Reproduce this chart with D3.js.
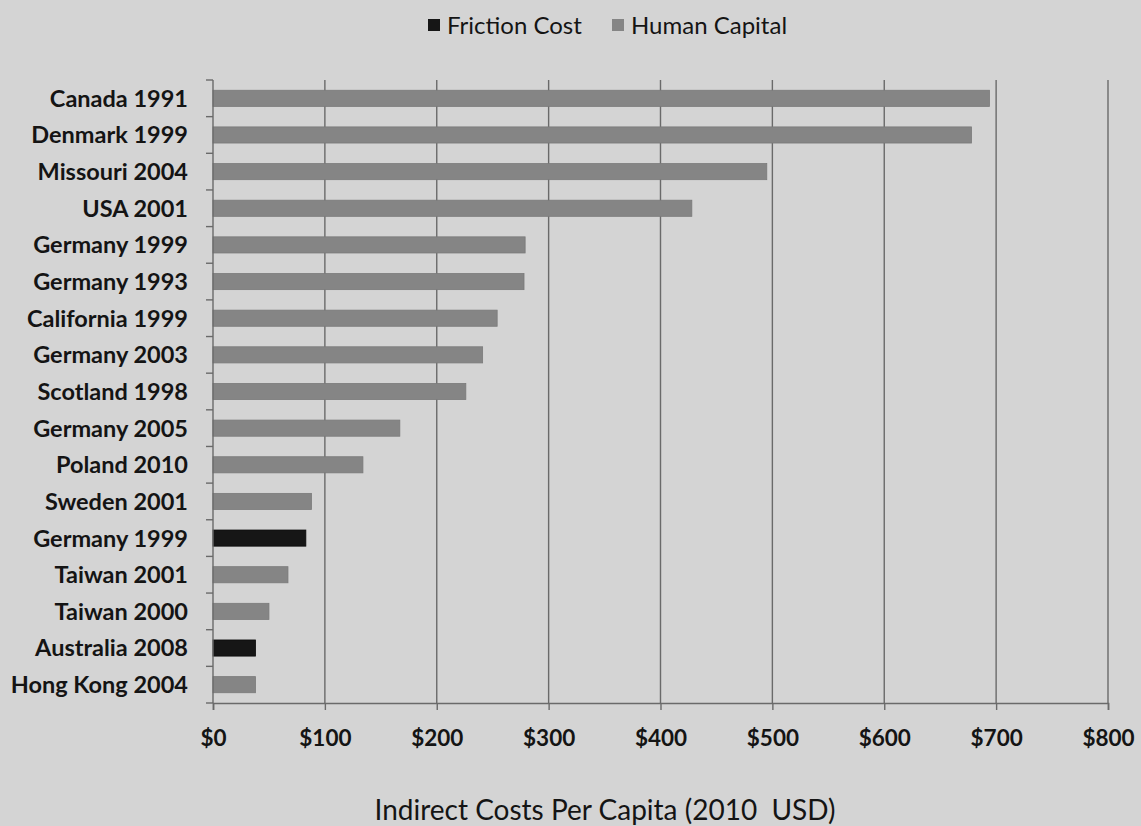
<!DOCTYPE html>
<html>
<head>
<meta charset="utf-8">
<script src="https://cdn.jsdelivr.net/npm/d3@7"></script>
<style>
  html, body { margin: 0; padding: 0; background: #d4d4d4; }
  svg { display: block; }
  text { font-family: Lato, "Open Sans", sans-serif; fill: #141414; }
</style>
</head>
<body>
<svg id="chart" width="1141" height="826"></svg>
<script>
// Studies, top to bottom
const categories = [
  "Canada 1991", "Denmark 1999", "Missouri 2004", "USA 2001", "Germany 1999",
  "Germany 1993", "California 1999", "Germany 2003", "Scotland 1998",
  "Germany 2005", "Poland 2010", "Sweden 2001", "Germany 1999", "Taiwan 2001",
  "Taiwan 2000", "Australia 2008", "Hong Kong 2004"
];
// Costing method used by each study
const methods = [
  "Human Capital", "Human Capital", "Human Capital", "Human Capital", "Human Capital",
  "Human Capital", "Human Capital", "Human Capital", "Human Capital",
  "Human Capital", "Human Capital", "Human Capital", "Friction Cost", "Human Capital",
  "Human Capital", "Friction Cost", "Human Capital"
];
// Indirect costs per capita, 2010 USD
const values = [694, 678, 495, 428, 279, 278, 254, 241, 226, 167, 134, 88, 83, 67, 50, 38, 38];
const seriesNames = ["Friction Cost", "Human Capital"];
const seriesColors = ["#161616", "#858585"];
const xTicks = [0, 100, 200, 300, 400, 500, 600, 700, 800];

const svg = d3.select("#chart");
const margin = { top: 80, right: 33, bottom: 123, left: 213 };
const width = 1141 - margin.left - margin.right;
const height = 826 - margin.top - margin.bottom;

const g = svg.append("g").attr("transform", `translate(${margin.left},${margin.top})`);

const x = d3.scaleLinear().domain([0, 800]).range([0, width]);
const y = d3.scaleBand().domain(d3.range(categories.length)).range([0, height]).paddingInner(0.56).paddingOuter(0.28);
const color = d3.scaleOrdinal().domain(seriesNames).range(seriesColors);

// vertical gridlines
g.append("g").selectAll("line").data(xTicks.slice(1)).join("line")
  .attr("x1", d => x(d)).attr("x2", d => x(d))
  .attr("y1", 0).attr("y2", height)
  .attr("stroke", "#6a6a6a").attr("stroke-width", 1.4);

// bars
const rows = categories.map((c, i) => ({ i, name: c, method: methods[i], value: values[i] }));
g.append("g").selectAll("rect").data(rows).join("rect")
  .attr("x", x(0))
  .attr("y", d => y(d.i))
  .attr("width", d => x(d.value) - x(0))
  .attr("height", y.bandwidth())
  .attr("fill", d => color(d.method))
  .attr("stroke", d => d.method === "Friction Cost" ? "#0a0a0a" : "#7a7a7a")
  .attr("stroke-width", 0.8);

// y axis with ticks at band boundaries
const yAxisG = g.append("g");
yAxisG.append("line").attr("x1", 0).attr("x2", 0).attr("y1", 0).attr("y2", height)
  .attr("stroke", "#6a6a6a").attr("stroke-width", 1.4);
yAxisG.selectAll("line.tick").data(d3.range(categories.length + 1)).join("line")
  .attr("class", "tick")
  .attr("x1", -7).attr("x2", 0)
  .attr("y1", d => d * height / categories.length).attr("y2", d => d * height / categories.length)
  .attr("stroke", "#6a6a6a").attr("stroke-width", 1.4);
yAxisG.selectAll("text").data(rows).join("text")
  .attr("x", -25)
  .attr("y", d => y(d.i) + y.bandwidth() / 2)
  .attr("dy", "0.36em")
  .attr("text-anchor", "end")
  .attr("font-size", 23.5)
  .attr("font-weight", 700)
  .text(d => d.name);

// x axis
const xAxis = d3.axisBottom(x).tickValues(xTicks).tickFormat(d => "$" + d).tickSize(7).tickPadding(20);
const xAxisG = g.append("g").attr("transform", `translate(0,${height})`).call(xAxis);
xAxisG.select(".domain").attr("stroke", "#6a6a6a").attr("stroke-width", 1.6);
xAxisG.selectAll(".tick line").attr("stroke", "#6a6a6a").attr("stroke-width", 1.4);
xAxisG.selectAll(".tick text")
  .attr("font-size", 22.5).attr("font-weight", 700)
  .attr("font-family", "Lato, 'Open Sans', sans-serif").attr("fill", "#141414");

// x axis title
svg.append("text")
  .attr("x", 605)
  .attr("y", 820)
  .attr("text-anchor", "middle")
  .attr("font-size", 28)
  .text("Indirect Costs Per Capita (2010\u00a0 USD)");

// legend
const legend = svg.append("g").attr("transform", "translate(428,25)");
const legendX = [0, 184];
seriesNames.forEach((s, i) => {
  const item = legend.append("g").attr("transform", `translate(${legendX[i]},0)`);
  item.append("rect").attr("x", 0).attr("y", -6).attr("width", 12).attr("height", 12).attr("fill", seriesColors[i]);
  item.append("text").attr("x", 19).attr("y", 0).attr("dy", "0.36em").attr("font-size", 24).text(s);
});
</script>
</body>
</html>
